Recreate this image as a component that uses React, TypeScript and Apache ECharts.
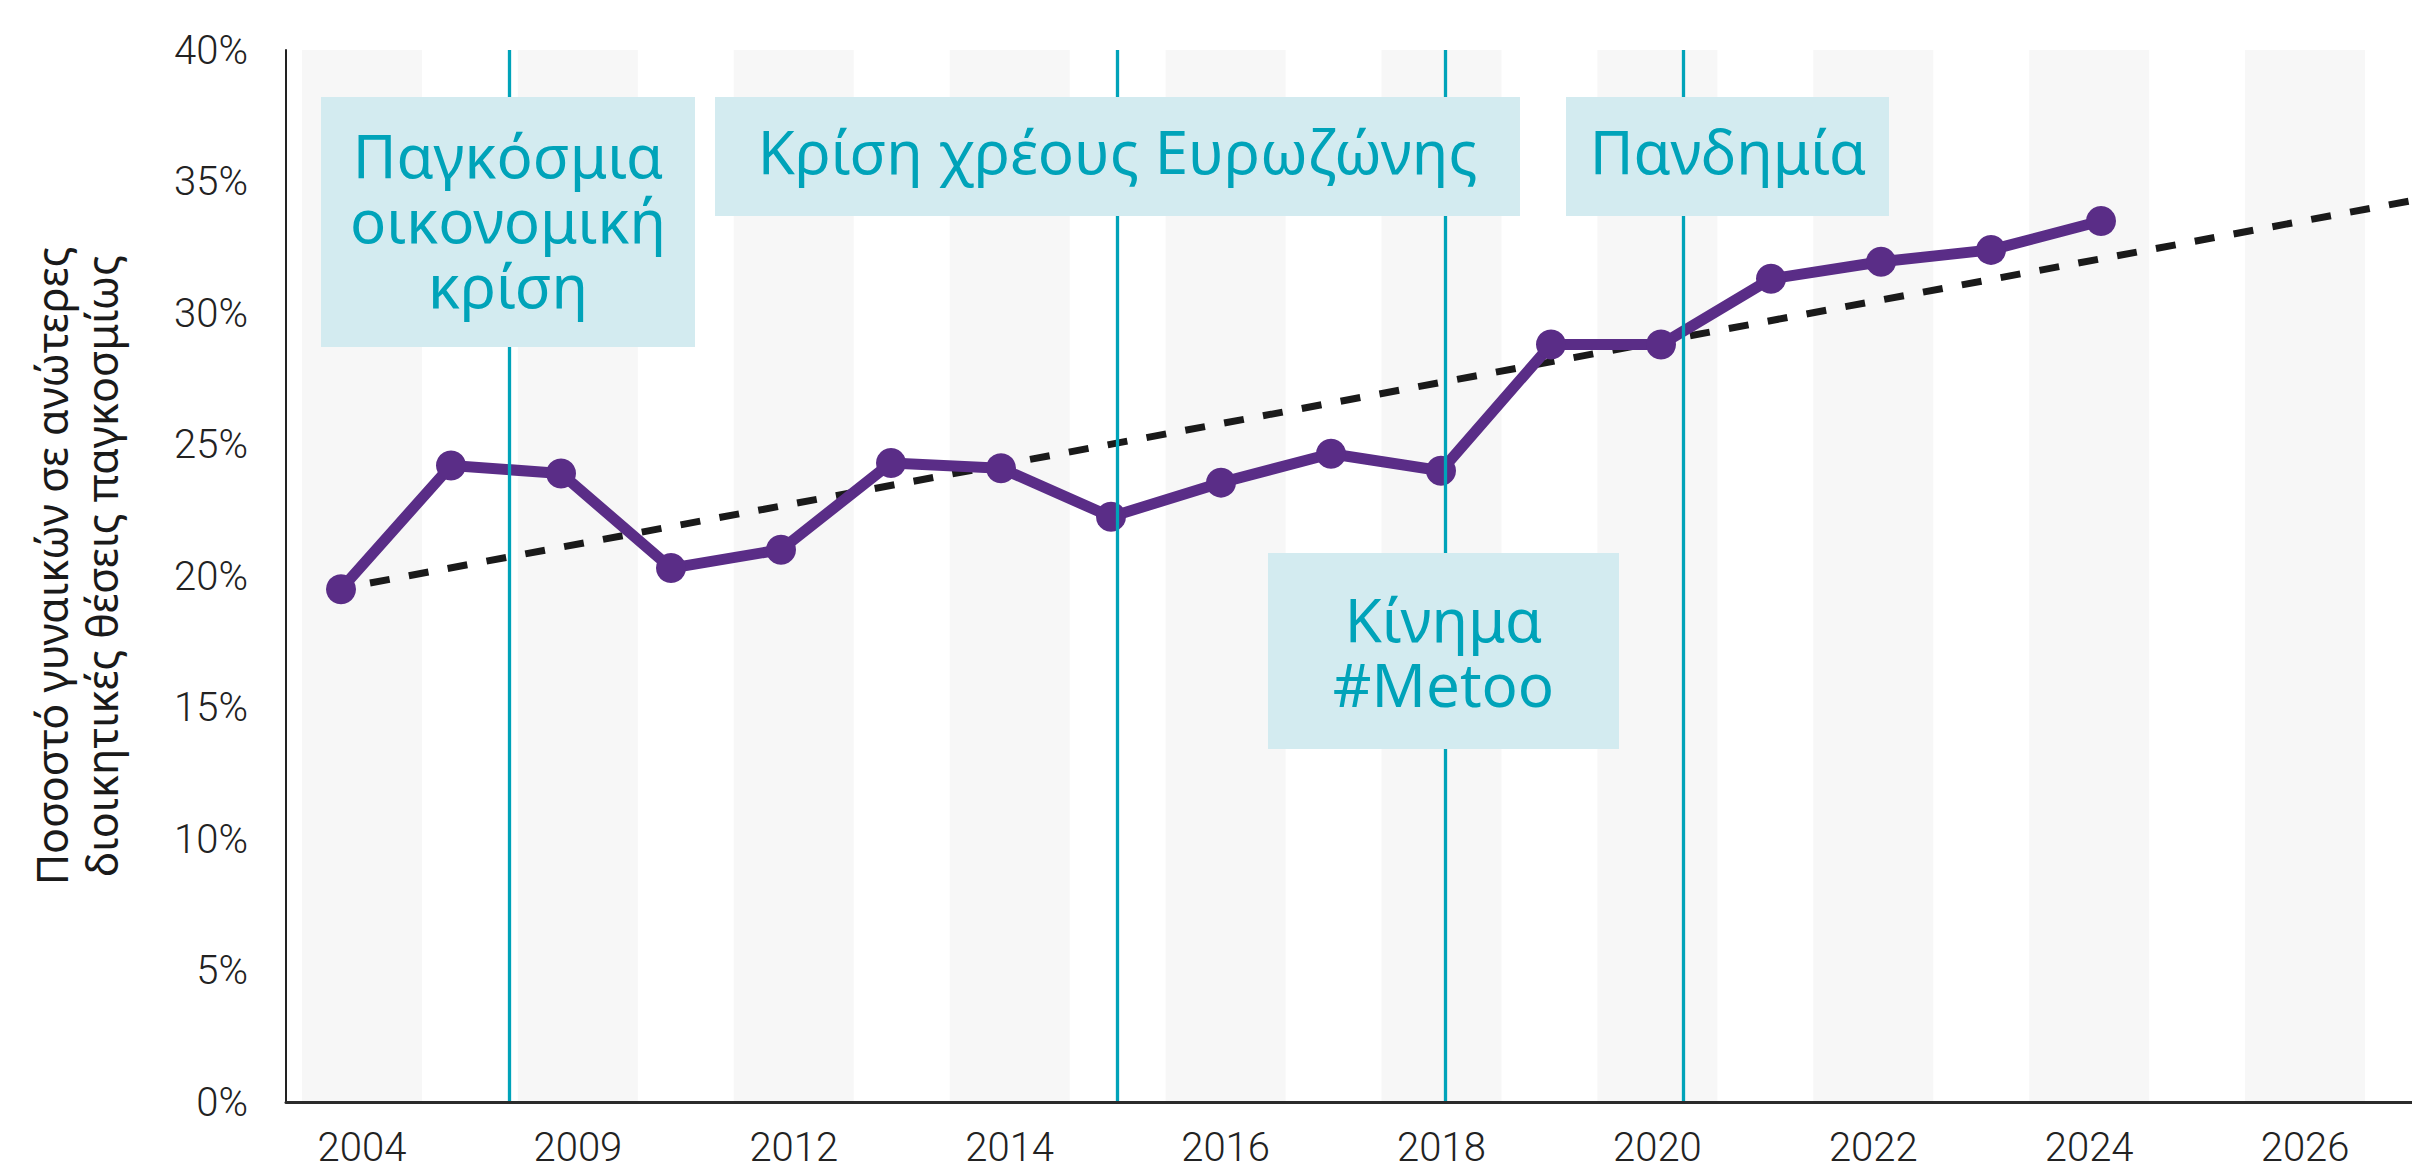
import React, { useEffect, useRef } from "react";
import * as echarts from "echarts";

// ---- data ----
const years = [
  "2004", "2007", "2009", "2011", "2012", "2013", "2014", "2015", "2016", "2017",
  "2018", "2019", "2020", "2021", "2022", "2023", "2024", "2025", "2026", "2027",
];
// share of women in senior management roles worldwide (%)
const womenShare = [
  19.5, 24.2, 23.9, 20.3, 21.0, 24.3, 24.1, 22.25, 23.55, 24.65, 24.0, 28.8, 28.8,
  31.3, 31.95, 32.4, 33.5,
];
// alternate shaded columns (every second category)
const bandTops: (number | null)[] = [
  40, null, 40, null, 40, null, 40, null, 40, null,
  40, null, 40, null, 40, null, 40, null, 40, null,
];
// event marker positions, in category-index units
const eventPositions = [1.53, 7.06, 10.04, 12.2];
const yTicks = { min: 0, max: 40, interval: 5 };

// linear trend (least squares over the category index), as drawn by the source chart
function linearTrend(values: number[]) {
  const n = values.length;
  const mx = (n - 1) / 2;
  const my = values.reduce((a, b) => a + b, 0) / n;
  let sxy = 0;
  let sxx = 0;
  values.forEach((v, i) => {
    sxy += (i - mx) * (v - my);
    sxx += (i - mx) * (i - mx);
  });
  const slope = sxy / sxx;
  const intercept = my - slope * mx;
  return { slope, intercept };
}

const VIEW_W = 2412;
const VIEW_H = 1169;
const CHART_W = 2560; // the source chart runs past the right edge of the picture

const TEAL = "#00a3b9";
const BOX = "#d3ebf0";
const PURPLE = "#5a2d87";
const INK = "#222222";
const TICK_FONT = "Roboto, 'Liberation Sans', sans-serif";
const NOTE_FONT = "'Noto Sans', 'Open Sans', sans-serif";

function noteBox(x: number, y: number, w: number, h: number, text: string, tx: number, ty: number) {
  return [
    {
      type: "rect",
      z: 50,
      silent: true,
      shape: { x, y, width: w, height: h },
      style: { fill: BOX },
    },
    {
      type: "text",
      z: 51,
      silent: true,
      x: tx,
      y: ty,
      style: {
        text,
        fill: TEAL,
        fontSize: 60,
        fontFamily: NOTE_FONT,
        fontWeight: 400,
        lineHeight: 65,
        align: "center",
        verticalAlign: "middle",
        textAlign: "center",
        textVerticalAlign: "middle",
      },
    },
  ];
}

export default function App() {
  const ref = useRef<HTMLDivElement>(null);

  useEffect(() => {
    if (!ref.current) return;
    const chart = echarts.init(ref.current, undefined, { renderer: "svg" });
    const { slope, intercept } = linearTrend(womenShare);
    const trendEnd = years.length - 0.5;
    const trendPoints = [
      [0, intercept],
      [trendEnd, intercept + slope * trendEnd],
    ];

    const option: any = {
      animation: false,
      backgroundColor: "#ffffff",
      grid: [
        { left: 286, width: 2200, top: 50, bottom: 67, containLabel: false, outerBoundsMode: "none" },
        { left: 308, width: 2159, top: 50, bottom: 67, containLabel: false, outerBoundsMode: "none" },
      ],
      xAxis: [
        {
          type: "category",
          gridIndex: 0,
          data: years,
          boundaryGap: true,
          show: false,
        },
        {
          type: "value",
          gridIndex: 0,
          min: -0.5,
          max: years.length - 0.5,
          position: "bottom",
          z: 10,
          axisLine: { show: true, onZero: false, lineStyle: { color: "#2b2b2b", width: 3 } },
          axisTick: { show: false },
          axisLabel: { show: false },
          splitLine: { show: false },
        },
        {
          type: "category",
          gridIndex: 1,
          data: years,
          boundaryGap: true,
          position: "bottom",
          axisLine: { show: false },
          axisTick: { show: false },
          splitLine: { show: false },
          axisLabel: {
            interval: 1,
            margin: 25,
            fontSize: 40,
            fontFamily: TICK_FONT,
            fontWeight: 300,
            color: INK,
          },
        },
      ],
      yAxis: [
        {
          type: "value",
          gridIndex: 0,
          min: yTicks.min,
          max: yTicks.max,
          interval: yTicks.interval,
          z: 10,
          axisLine: { show: true, onZero: false, lineStyle: { color: INK, width: 2 } },
          axisTick: { show: false },
          splitLine: { show: false },
          axisLabel: {
            formatter: "{value}%",
            margin: 38,
            fontSize: 40,
            fontFamily: TICK_FONT,
            fontWeight: 300,
            color: INK,
            verticalAlign: "middle",
            padding: [0, 0, 28, 0],
          },
        },
        {
          type: "value",
          gridIndex: 1,
          min: yTicks.min,
          max: yTicks.max,
          show: false,
        },
      ],
      series: [
        {
          name: "bands",
          type: "bar",
          xAxisIndex: 2,
          yAxisIndex: 1,
          data: bandTops,
          barWidth: 120,
          clip: false,
          silent: true,
          z: 1,
          itemStyle: { color: "#f7f7f7" },
        },
        {
          name: "events",
          type: "line",
          xAxisIndex: 1,
          yAxisIndex: 0,
          data: [],
          z: 2,
          silent: true,
          markLine: {
            silent: true,
            symbol: ["none", "none"],
            label: { show: false },
            lineStyle: { color: TEAL, width: 3.3, type: "solid" },
            data: eventPositions.map((v) => ({ xAxis: v })),
          },
        },
        {
          name: "trend",
          type: "line",
          xAxisIndex: 1,
          yAxisIndex: 0,
          data: trendPoints,
          symbol: "none",
          silent: true,
          z: 3,
          lineStyle: { color: "#1a1a1a", width: 7, type: [20, 19.5], dashOffset: 10, cap: "butt" },
        },
        {
          name: "share",
          type: "line",
          xAxisIndex: 0,
          yAxisIndex: 0,
          data: womenShare,
          z: 4,
          symbol: "circle",
          symbolSize: 30,
          itemStyle: { color: PURPLE },
          lineStyle: { color: PURPLE, width: 11 },
        },
      ],
      graphic: {
        elements: [
          ...noteBox(321, 97, 374, 250, "Παγκόσμια\nοικονομική\nκρίση", 508, 220),
          ...noteBox(715, 97, 805, 119, "Κρίση χρέους Ευρωζώνης", 1117.5, 151),
          ...noteBox(1566, 97, 323, 119, "Πανδημία", 1728, 151),
          ...noteBox(1268, 553, 351, 196, "Κίνημα\n#Metoo", 1443.5, 651),
          {
            type: "text",
            z: 20,
            silent: true,
            x: 76,
            y: 566,
            rotation: Math.PI / 2,
            style: {
              text: "Ποσοστό γυναικών σε ανώτερες\nδιοικητικές θέσεις παγκοσμίως",
              fill: "#1a1a1a",
              fontSize: 43,
              fontFamily: NOTE_FONT,
              lineHeight: 50,
              align: "center",
              verticalAlign: "middle",
              textAlign: "center",
              textVerticalAlign: "middle",
            },
          },
        ],
      },
    };

    chart.setOption(option);
    return () => chart.dispose();
  }, []);

  return (
    <div
      style={{
        position: "fixed",
        left: 0,
        top: 0,
        width: VIEW_W,
        height: VIEW_H,
        overflow: "hidden",
        background: "#fff",
      }}
    >
      <div ref={ref} style={{ width: CHART_W, height: VIEW_H }} />
    </div>
  );
}
